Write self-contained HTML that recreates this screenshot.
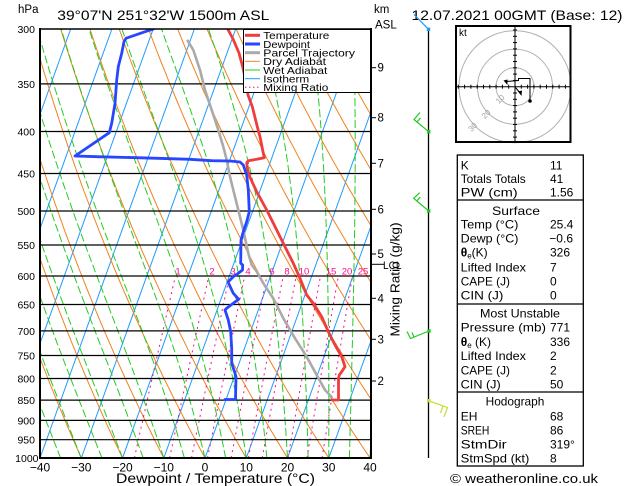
<!DOCTYPE html>
<html><head><meta charset="utf-8"><style>
html,body{margin:0;padding:0;background:#fff;}
svg{display:block;font-family:"Liberation Sans",Arial,sans-serif;}
</style></head><body>
<svg id="s" width="629" height="486" viewBox="0 0 629 486" xmlns="http://www.w3.org/2000/svg">
<defs><clipPath id="c"><rect x="40" y="29" width="331" height="429"/></clipPath></defs>
<rect width="629" height="486" fill="#fff"/>
<g id="bg" clip-path="url(#c)" fill="none"></g>

<!-- pressure lines -->
<g stroke="#000" stroke-width="1.2">
<line x1="40" x2="371" y1="83.9" y2="83.9"/>
<line x1="40" x2="371" y1="131.5" y2="131.5"/>
<line x1="40" x2="371" y1="173.5" y2="173.5"/>
<line x1="40" x2="371" y1="211" y2="211"/>
<line x1="40" x2="371" y1="245" y2="245"/>
<line x1="40" x2="371" y1="276" y2="276"/>
<line x1="40" x2="371" y1="304.5" y2="304.5"/>
<line x1="40" x2="371" y1="330.9" y2="330.9"/>
<line x1="40" x2="371" y1="355.5" y2="355.5"/>
<line x1="40" x2="371" y1="378.5" y2="378.5"/>
<line x1="40" x2="371" y1="400.1" y2="400.1"/>
<line x1="40" x2="371" y1="420.4" y2="420.4"/>
<line x1="40" x2="371" y1="439.7" y2="439.7"/>
</g>

<!-- mixing ratio labels -->
<g fill="#ff0a8c" font-size="9.5" text-anchor="middle">
<text x="178" y="274.5">1</text><text x="212" y="274.5">2</text><text x="233" y="274.5">3</text>
<text x="248" y="274.5">4</text><text x="272" y="274.5">6</text><text x="287" y="274.5">8</text>
<text x="304" y="274.5">10</text><text x="331" y="274.5">15</text><text x="347" y="274.5">20</text>
<text x="363" y="274.5">25</text>
</g>

<!-- traces -->
<g fill="none" stroke-linejoin="round" stroke-linecap="round" clip-path="url(#c)">
<polyline stroke="#aaaaaa" stroke-width="2.6" points="187.7,40.7 193.3,50 200,70 205,90 211.7,110 218.3,130 223.3,146.7 226.7,160 230,176.7 233.3,190 238.3,210 243.3,230 248.3,253.3 251.7,265 256.7,271.5 263.3,283.3 273.3,298.3 283.3,318.3 295,338.3 306.7,356.7 316.7,375 325,390 331.7,397"/>
<polyline stroke="#f03c3c" stroke-width="2.8" points="227.7,29 233,39 239,53 242.7,66.7 245.5,80 248,95 252.3,106.7 257.7,128.3 260,136.7 263.3,153.3 264.3,157.7 256.7,159.3 248.3,160.7 246.7,162.7 247.7,170 250,177.3 256.7,191.7 266.7,210 276.7,230 285,246.7 293.3,263.3 300,278.3 306.7,295 313.3,303.3 321.7,316.7 328.3,331.7 335,345 341.7,356.7 345,366.7 341.7,371.7 339.3,375 338.5,378.3 338.5,400 332.5,400"/>
<polyline stroke="#2646ff" stroke-width="2.8" points="153.3,29 143.3,32.3 126,38.3 124,41.7 121.7,53.3 118.3,66.7 116.7,80 115.5,96.7 115,103.3 111.7,123.3 109.3,132.7 75,156 96.7,156.7 136.7,157.7 170,158.7 190,159.3 211.7,160.7 230,161 240,162 243.3,165 246.7,175 248.3,190 249.3,211.7 246.7,221.7 243.3,231.7 241,240 240.7,263.3 242.7,265 242.5,270 238,273.5 233.3,276.7 228,282 233.3,293.3 238.7,299.3 233.3,303.3 226.7,308.3 225,310 228.3,320 230.7,331.7 231.7,348.3 231.7,363.3 235,373.3 236,376.7 235.5,399.5 225,399.5"/>
</g>

<!-- legend -->
<rect x="243.5" y="29.5" width="127" height="63" fill="#fff" stroke="#000" stroke-width="1"/>
<g stroke-linecap="butt">
<line x1="245" x2="260" y1="35.3" y2="35.3" stroke="#f03c3c" stroke-width="3"/>
<line x1="245" x2="260" y1="44" y2="44" stroke="#2646ff" stroke-width="3"/>
<line x1="245" x2="260" y1="52.7" y2="52.7" stroke="#aaaaaa" stroke-width="3"/>
<line x1="245" x2="260" y1="61.3" y2="61.3" stroke="#f0821e" stroke-width="1"/>
<line x1="245" x2="260" y1="70" y2="70" stroke="#22cc22" stroke-width="1"/>
<line x1="245" x2="260" y1="78.7" y2="78.7" stroke="#1e9bff" stroke-width="1"/>
<line x1="245" x2="260" y1="87.3" y2="87.3" stroke="#ff0a8c" stroke-width="1" stroke-dasharray="1.5,2.5"/>
</g>
<g font-size="10.5" fill="#000">
<text x="263.3" y="39.2" textLength="66" lengthAdjust="spacingAndGlyphs">Temperature</text>
<text x="263.3" y="47.9" textLength="46.7" lengthAdjust="spacingAndGlyphs">Dewpoint</text>
<text x="263.3" y="56.6" textLength="91.7" lengthAdjust="spacingAndGlyphs">Parcel Trajectory</text>
<text x="263.3" y="65.2" textLength="62.7" lengthAdjust="spacingAndGlyphs">Dry Adiabat</text>
<text x="263.3" y="73.9" textLength="64" lengthAdjust="spacingAndGlyphs">Wet Adiabat</text>
<text x="263.3" y="82.6" textLength="46" lengthAdjust="spacingAndGlyphs">Isotherm</text>
<text x="263.3" y="91.2" textLength="65" lengthAdjust="spacingAndGlyphs">Mixing Ratio</text>
</g>

<!-- frame -->
<g stroke="#000" fill="none">
<line x1="40" x2="371" y1="29" y2="29" stroke-width="1.6"/>
<line x1="39" x2="372" y1="458" y2="458" stroke-width="2"/>
<line x1="40" x2="40" y1="28" y2="459" stroke-width="2"/>
<line x1="371" x2="371" y1="28" y2="459" stroke-width="2"/>
</g>

<!-- pressure labels -->
<g font-size="10.5" text-anchor="end" fill="#000">
<text x="35" y="33">300</text><text x="35" y="87.9">350</text><text x="35" y="135.5">400</text>
<text x="35" y="177.5">450</text><text x="35" y="215">500</text><text x="35" y="249">550</text>
<text x="35" y="280">600</text><text x="35" y="308.5">650</text><text x="35" y="334.9">700</text>
<text x="35" y="359.5">750</text><text x="35" y="382.5">800</text><text x="35" y="404.1">850</text>
<text x="35" y="424.4">900</text><text x="35" y="443.7">950</text><text x="38.5" y="462">1000</text>
</g>
<text x="18" y="13" font-size="11.5">hPa</text>

<!-- bottom labels -->
<g font-size="12" text-anchor="middle" fill="#000">
<text x="40" y="471.5">−40</text><text x="81.25" y="471.5">−30</text><text x="122.5" y="471.5">−20</text>
<text x="163.75" y="471.5">−10</text><text x="205" y="471.5">0</text><text x="246.25" y="471.5">10</text>
<text x="287.5" y="471.5">20</text><text x="328.75" y="471.5">30</text><text x="370" y="471.5">40</text>
</g>
<text x="116" y="483" font-size="14" textLength="199" lengthAdjust="spacingAndGlyphs">Dewpoint / Temperature (°C)</text>

<!-- titles -->
<text x="57.3" y="20" font-size="14" textLength="212" lengthAdjust="spacingAndGlyphs">39°07'N  251°32'W  1500m  ASL</text>
<text x="411.5" y="20" font-size="14" textLength="211" lengthAdjust="spacingAndGlyphs">12.07.2021  00GMT  (Base: 12)</text>
<text x="374" y="13" font-size="11.5">km</text>
<text x="375" y="28.5" font-size="11.5">ASL</text>

<!-- km axis -->
<g stroke="#000" stroke-width="1">
<line x1="371" x2="376" y1="67.7" y2="67.7"/><line x1="371" x2="376" y1="117.7" y2="117.7"/>
<line x1="371" x2="376" y1="163.3" y2="163.3"/><line x1="371" x2="376" y1="209.3" y2="209.3"/>
<line x1="371" x2="376" y1="254" y2="254"/><line x1="371" x2="376" y1="298.3" y2="298.3"/>
<line x1="371" x2="376" y1="339.3" y2="339.3"/><line x1="371" x2="376" y1="381" y2="381"/>
<line x1="371" x2="384" y1="264.3" y2="264.3"/>
</g>
<g font-size="11.5" fill="#000">
<text x="377.5" y="71.7">9</text><text x="377.5" y="121.7">8</text><text x="377.5" y="167.3">7</text>
<text x="377.5" y="213.3">6</text><text x="377.5" y="258">5</text><text x="377.5" y="302.3">4</text>
<text x="377.5" y="343.3">3</text><text x="377.5" y="385">2</text>
</g>
<text x="383" y="269" font-size="11" textLength="18.5" lengthAdjust="spacingAndGlyphs">LCL</text>
<text transform="translate(399.5,279.5) rotate(-90)" font-size="12.5" text-anchor="middle" textLength="114" lengthAdjust="spacingAndGlyphs">Mixing Ratio (g/kg)</text>

<!-- wind barbs -->
<line x1="428.5" x2="428.5" y1="29" y2="458" stroke="#000" stroke-width="1.3"/>
<g fill="none" stroke-width="1.2">
<polyline stroke="#1e9bff" points="428.5,29.3 414,14.5"/>
<polyline stroke="#22cc22" points="428.7,131.7 414,119.5 420,112.5"/>
<polyline stroke="#22cc22" points="417,122 420.5,118"/>
<polyline stroke="#22cc22" points="428.7,211 413.7,198.3 419.7,192.7"/>
<polyline stroke="#22cc22" points="416.8,201 420.2,197.2"/>
<polyline stroke="#22cc22" points="429,331 410.5,338.5 407,331.5"/>
<polyline stroke="#22cc22" points="414,337 412,332.5"/>
<polyline stroke="#c0e040" points="428.7,400.7 447.5,407.5 444,417"/>
<polyline stroke="#c0e040" points="443,406 440.5,413"/>
</g>
<rect x="426.8" y="27.6" width="3.4" height="3.4" fill="#1e9bff"/>
<rect x="427" y="130" width="3.4" height="3.4" fill="#22cc22"/>
<rect x="427" y="209.3" width="3.4" height="3.4" fill="#22cc22"/>
<rect x="427.3" y="329.3" width="3.4" height="3.4" fill="#22cc22"/>
<rect x="427" y="399" width="3.4" height="3.4" fill="#c0e040"/>

<!-- hodograph -->
<g fill="none" stroke="#b0b0b0" stroke-width="1">
<circle cx="515" cy="86.7" r="19"/><circle cx="515" cy="86.7" r="37.5"/><circle cx="515" cy="86.7" r="56"/>
</g>
<g font-size="8" fill="#a0a0a0" text-anchor="middle">
<text transform="translate(502,101) rotate(-45)">10</text>
<text transform="translate(488,116) rotate(-45)">20</text>
<text transform="translate(474.5,129) rotate(-45)">30</text>
</g>
<g stroke="#000" stroke-width="1" id="hx">
<line x1="457" x2="570" y1="86.7" y2="86.7"/>
<line x1="515" x2="515" y1="27" y2="141"/>
</g>
<rect x="456" y="26" width="114.5" height="116" fill="none" stroke="#000" stroke-width="2"/>
<text x="459" y="36" font-size="10">kt</text>
<polyline fill="none" stroke="#000" stroke-width="1" points="530,101 530,78.5 518.5,78.5 518.5,80.5 506,81.5"/>
<circle cx="530" cy="101" r="1.8" fill="#000"/>
<polygon points="503.5,80.5 507.5,79.5 507.5,85" fill="#000"/>
<line x1="515.5" y1="87.5" x2="520" y2="93" stroke="#000" stroke-width="1"/>
<polygon points="518,91.5 522,90.5 521.5,96" fill="#000"/>

<!-- info panel -->
<g fill="none" stroke="#000" stroke-width="1.3">
<rect x="457.3" y="155" width="126" height="311"/>
<line x1="457.3" x2="583.3" y1="200" y2="200"/>
<line x1="457.3" x2="583.3" y1="304" y2="304"/>
<line x1="457.3" x2="583.3" y1="392" y2="392"/>
</g>
<g font-size="12" fill="#000">
<text x="460.7" y="169.5">K</text><text x="550" y="169.5">11</text>
<text x="460.7" y="183" textLength="65" lengthAdjust="spacingAndGlyphs">Totals Totals</text><text x="550" y="183">41</text>
<text x="460.7" y="196.5" textLength="57" lengthAdjust="spacingAndGlyphs">PW (cm)</text><text x="550" y="196.5">1.56</text>
<text x="516" y="215" text-anchor="middle" textLength="48" lengthAdjust="spacingAndGlyphs">Surface</text>
<text x="460.7" y="228.5" textLength="57.7" lengthAdjust="spacingAndGlyphs">Temp (°C)</text><text x="550" y="228.5">25.4</text>
<text x="460.7" y="242.7" textLength="57.7" lengthAdjust="spacingAndGlyphs">Dewp (°C)</text><text x="549.3" y="242.7">−0.6</text>
<text x="460.7" y="256.7"><tspan font-weight="bold">θ</tspan><tspan font-size="8" dy="2">e</tspan><tspan dy="-2">(K)</tspan></text><text x="550" y="256.7">326</text>
<text x="460.7" y="271.3" textLength="65.3" lengthAdjust="spacingAndGlyphs">Lifted Index</text><text x="550" y="271.3">7</text>
<text x="460.7" y="285.3" textLength="49.3" lengthAdjust="spacingAndGlyphs">CAPE (J)</text><text x="550" y="285.3">0</text>
<text x="460.7" y="299.3" textLength="42.7" lengthAdjust="spacingAndGlyphs">CIN (J)</text><text x="550" y="299.3">0</text>
<text x="520" y="317.5" text-anchor="middle" textLength="80" lengthAdjust="spacingAndGlyphs">Most Unstable</text>
<text x="460.7" y="331.5" textLength="85.3" lengthAdjust="spacingAndGlyphs">Pressure (mb)</text><text x="550" y="331.5">771</text>
<text x="460.7" y="346"><tspan font-weight="bold">θ</tspan><tspan font-size="8" dy="2">e</tspan><tspan dy="-2"> (K)</tspan></text><text x="550" y="346">336</text>
<text x="460.7" y="360" textLength="65.3" lengthAdjust="spacingAndGlyphs">Lifted Index</text><text x="550" y="360">2</text>
<text x="460.7" y="374.3" textLength="49.3" lengthAdjust="spacingAndGlyphs">CAPE (J)</text><text x="550" y="374.3">2</text>
<text x="460.7" y="388.3" textLength="40" lengthAdjust="spacingAndGlyphs">CIN (J)</text><text x="550" y="388.3">50</text>
<text x="515" y="405.5" text-anchor="middle" textLength="58.7" lengthAdjust="spacingAndGlyphs">Hodograph</text>
<text x="460.7" y="420.5">EH</text><text x="550" y="420.5">68</text>
<text x="460.7" y="434.5" textLength="28.7" lengthAdjust="spacingAndGlyphs">SREH</text><text x="550" y="434.5">86</text>
<text x="460.7" y="448.5" textLength="46" lengthAdjust="spacingAndGlyphs">StmDir</text><text x="550" y="448.5">319°</text>
<text x="460.7" y="462.5" textLength="68.7" lengthAdjust="spacingAndGlyphs">StmSpd (kt)</text><text x="550" y="462.5">8</text>
</g>
<text x="450" y="483" font-size="13" textLength="148" lengthAdjust="spacingAndGlyphs">© weatheronline.co.uk</text>
</svg>
<script>
(function(){
const NS="http://www.w3.org/2000/svg";
const bg=document.getElementById('bg');
function Y(p){return 29+356.3*Math.log(p/300);}
function X(T,p){return 205+4.125*T+0.36*(458-Y(p));}
function add(d,stroke,extra){const e=document.createElementNS(NS,'path');e.setAttribute('d',d);e.setAttribute('stroke',stroke);e.setAttribute('stroke-width','1');if(extra)for(const k in extra)e.setAttribute(k,extra[k]);bg.appendChild(e);}
// isotherms
for(let T=-120;T<=40;T+=10){add('M'+X(T,1000).toFixed(1)+','+Y(1000).toFixed(1)+'L'+X(T,300).toFixed(1)+','+Y(300).toFixed(1),'#1e9bff');}
// dry adiabats
for(let th=-40;th<=140;th+=10){let d='';for(let p=1000;p>=300;p-=10){const T=(th+273.15)*Math.pow(p/1000,0.2857)-273.15;d+=(p==1000?'M':'L')+X(T,p).toFixed(1)+','+Y(p).toFixed(1);}add(d,'#f0821e');}
// wet adiabats
function es(t){return 6.112*Math.exp(17.67*t/(t+243.5));}
function f(Tk,p){const e=es(Tk-273.15);const rs=0.622*e/(p-e);return (287.04*Tk+2.501e6*rs)/(p*(1005.7+2.501e6*2.501e6*rs*0.622/(287.04*Tk*Tk)));}
for(let tw=-45;tw<=45;tw+=5){let Tk=tw+273.15;let d='M'+X(tw,1000).toFixed(1)+','+Y(1000).toFixed(1);for(let p=1000;p>300;p-=5){const h=-5;const k1=f(Tk,p);const k2=f(Tk+h*k1,p+h);Tk+=h*(k1+k2)/2;d+='L'+X(Tk-273.15,p+h).toFixed(1)+','+Y(p+h).toFixed(1);}add(d,'#22cc22',{'stroke-dasharray':'8,3'});}
// mixing ratio
[1,2,3,4,6,8,10,15,20,25].forEach(function(w){let d='';for(let p=1000;p>=600;p-=50){const e=w*p/(622+w);const l=Math.log(e/6.112);const T=243.5*l/(17.67-l);d+=(p==1000?'M':'L')+X(T,p).toFixed(1)+','+Y(p).toFixed(1);}add(d,'#ff0a8c',{'stroke-dasharray':'2,4'});});
// hodograph ticks
const hx=document.getElementById('hx');
for(let i=-9;i<=9;i++){if(i==0)continue;const x=515+i*6.3;if(x<458||x>569)continue;const l=document.createElementNS(NS,'line');l.setAttribute('x1',x);l.setAttribute('x2',x);l.setAttribute('y1',84.7);l.setAttribute('y2',88.7);hx.appendChild(l);}
for(let i=-9;i<=9;i++){if(i==0)continue;const y=86.7+i*6.3;if(y<28||y>140)continue;const l=document.createElementNS(NS,'line');l.setAttribute('y1',y);l.setAttribute('y2',y);l.setAttribute('x1',513);l.setAttribute('x2',517);hx.appendChild(l);}
})();
</script>
</body></html>
